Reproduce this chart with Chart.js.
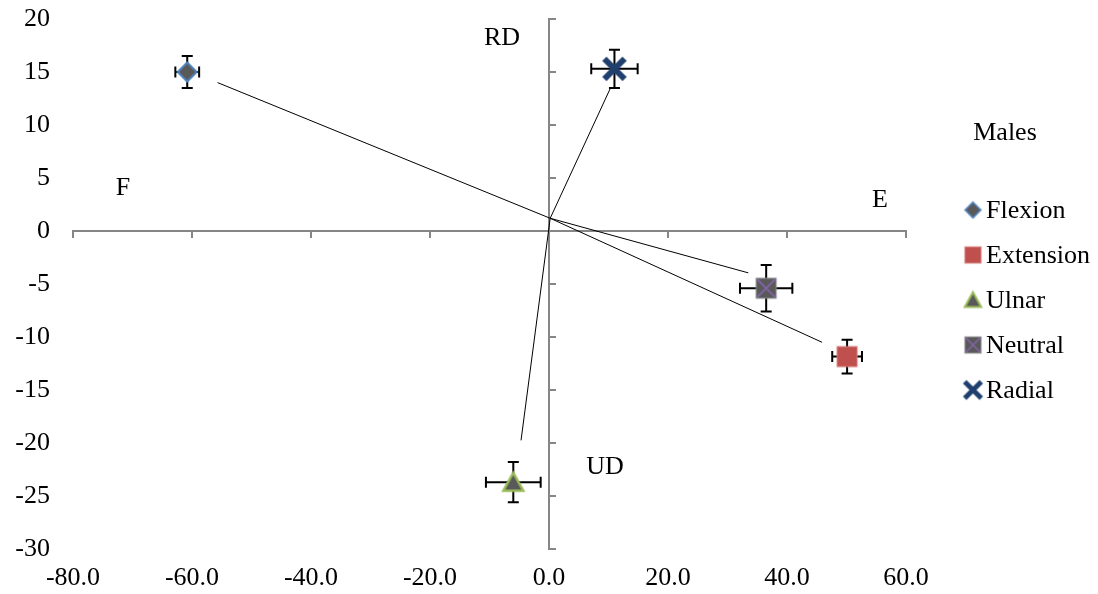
<!DOCTYPE html>
<html><head><meta charset="utf-8">
<script src="https://cdn.jsdelivr.net/npm/chart.js@4"></script>
<style>html,body{margin:0;padding:0;background:#fff;} #wrap{width:1098px;height:594px;position:relative;}</style>
</head><body><div id="wrap"><canvas id="c" width="1098" height="594"></canvas></div>
<script>
// ---- data ----
const categories = ['Flexion', 'Extension', 'Ulnar', 'Neutral', 'Radial'];
const meanX = [-60.8, 50.1, -6.0, 36.5, 11.0];
const meanY = [15.0, -11.85, -23.7, -5.4, 15.3];
const errX = [2.0, 2.5, 4.6, 4.4, 3.9];
const errY = [1.5, 1.6, 1.9, 2.2, 1.8];
const lineStart = [0.2, 1.2];
const lineEndX = [-55.7, 45.9, -4.7, 33.5, 10.3];
const lineEndY = [14.0, -10.5, -19.75, -3.95, 13.45];
const xTicks = [-80, -60, -40, -20, 0, 20, 40, 60];
const yTicks = [-30, -25, -20, -15, -10, -5, 0, 5, 10, 15, 20];
const annotations = [
  {text: 'RD', x: 502, y: 38},
  {text: 'F', x: 123, y: 188},
  {text: 'E', x: 880, y: 200},
  {text: 'UD', x: 605, y: 467},
  {text: 'Males', x: 1005, y: 133}
];

const FONT = '26px "Liberation Serif", "Times New Roman", serif';

function makeMarker(type, s) {
  const c = document.createElement('canvas');
  const n = Math.ceil(28 * s);
  c.width = n; c.height = n;
  const g = c.getContext('2d');
  g.translate(n / 2, n / 2);
  g.scale(s, s);
  if (type === 'Flexion') {
    g.beginPath(); g.moveTo(0, -9.5); g.lineTo(9.5, 0); g.lineTo(0, 9.5); g.lineTo(-9.5, 0); g.closePath();
    g.fillStyle = '#595959'; g.fill();
    g.lineWidth = 2; g.strokeStyle = '#4F81BD'; g.stroke();
  } else if (type === 'Extension') {
    g.fillStyle = '#C0504D'; g.fillRect(-10, -10, 20, 20);
    g.lineWidth = 1; g.strokeStyle = '#D27C7A'; g.strokeRect(-10, -10, 20, 20);
  } else if (type === 'Ulnar') {
    g.beginPath(); g.moveTo(0, -9.5); g.lineTo(10, 8.5); g.lineTo(-10, 8.5); g.closePath();
    g.fillStyle = '#595959'; g.fill();
    g.lineWidth = 2.5; g.lineJoin = 'miter'; g.strokeStyle = '#9BBB59'; g.stroke();
  } else if (type === 'Neutral') {
    g.fillStyle = '#595959'; g.fillRect(-10, -10, 20, 20);
    g.lineWidth = 1; g.strokeStyle = '#8C8C8C'; g.strokeRect(-10, -10, 20, 20);
    g.beginPath(); g.moveTo(-9, -9); g.lineTo(9, 9); g.moveTo(9, -9); g.lineTo(-9, 9);
    g.lineWidth = 2; g.strokeStyle = '#8064A2'; g.stroke();
  } else if (type === 'Radial') {
    g.beginPath(); g.moveTo(-8, -8); g.lineTo(8, 8); g.moveTo(8, -8); g.lineTo(-8, 8);
    g.lineWidth = 6; g.lineCap = 'square'; g.strokeStyle = '#1F3F6E'; g.stroke();
  }
  return c;
}

const markers = categories.map(k => makeMarker(k, 1));
const legendMarkers = categories.map(k => makeMarker(k, 0.82));

const datasets = [];
categories.forEach((k, i) => {
  datasets.push({
    label: k,
    data: [{x: meanX[i], y: meanY[i]}],
    pointStyle: markers[i],
    pointRadius: 10,
    showLine: false,
    order: 0
  });
});
categories.forEach((k, i) => {
  datasets.push({
    label: k + ' line',
    data: [{x: lineStart[0], y: lineStart[1]}, {x: lineEndX[i], y: lineEndY[i]}],
    showLine: true,
    borderColor: '#000',
    borderWidth: 1,
    pointRadius: 0,
    fill: false,
    order: 1
  });
});

const decor = {
  id: 'decor',
  beforeDatasetsDraw(chart) {
    const ctx = chart.ctx, xs = chart.scales.x, ys = chart.scales.y;
    ctx.save();
    // axes crossing at origin
    ctx.strokeStyle = '#868686'; ctx.lineWidth = 2; ctx.lineCap = 'butt';
    const y0 = ys.getPixelForValue(0), x0 = xs.getPixelForValue(0);
    ctx.beginPath();
    ctx.moveTo(xs.getPixelForValue(xTicks[0]) - 1, y0); ctx.lineTo(xs.getPixelForValue(xTicks[xTicks.length - 1]) + 1, y0);
    xTicks.forEach(v => { const p = xs.getPixelForValue(v); ctx.moveTo(p, y0); ctx.lineTo(p, y0 + 7); });
    ctx.moveTo(x0, ys.getPixelForValue(yTicks[0]) + 1); ctx.lineTo(x0, ys.getPixelForValue(yTicks[yTicks.length - 1]) - 1);
    yTicks.forEach(v => { const p = ys.getPixelForValue(v); ctx.moveTo(x0, p); ctx.lineTo(x0 + 7, p); });
    ctx.stroke();
    // error bars
    ctx.strokeStyle = '#000'; ctx.lineWidth = 2;
    categories.forEach((k, i) => {
      const cx = xs.getPixelForValue(meanX[i]), cy = ys.getPixelForValue(meanY[i]);
      const xl = xs.getPixelForValue(meanX[i] - errX[i]), xr = xs.getPixelForValue(meanX[i] + errX[i]);
      const yt = ys.getPixelForValue(meanY[i] + errY[i]), yb = ys.getPixelForValue(meanY[i] - errY[i]);
      const cap = 5.5;
      ctx.beginPath();
      ctx.moveTo(xl, cy); ctx.lineTo(xr, cy);
      ctx.moveTo(xl, cy - cap); ctx.lineTo(xl, cy + cap);
      ctx.moveTo(xr, cy - cap); ctx.lineTo(xr, cy + cap);
      ctx.moveTo(cx, yt); ctx.lineTo(cx, yb);
      ctx.moveTo(cx - cap, yt); ctx.lineTo(cx + cap, yt);
      ctx.moveTo(cx - cap, yb); ctx.lineTo(cx + cap, yb);
      ctx.stroke();
    });
    ctx.restore();
  },
  afterDraw(chart) {
    const ctx = chart.ctx;
    ctx.save();
    ctx.font = FONT; ctx.fillStyle = '#000';
    ctx.textAlign = 'center'; ctx.textBaseline = 'middle';
    annotations.forEach(a => ctx.fillText(a.text, a.x, a.y));
    // legend
    ctx.textAlign = 'left';
    categories.forEach((k, i) => {
      const yy = 210 + i * 45;
      const m = legendMarkers[i];
      ctx.drawImage(m, 973 - m.width / 2, yy - m.height / 2);
      ctx.fillText(k, 986, yy + 1);
    });
    ctx.restore();
  }
};

new Chart(document.getElementById('c'), {
  type: 'scatter',
  data: { datasets },
  options: {
    responsive: false,
    animation: false,
    devicePixelRatio: 1,
    layout: { padding: { left: 0, right: 192, top: 19, bottom: 0 } },
    plugins: { legend: { display: false }, tooltip: { enabled: false } },
    scales: {
      x: {
        type: 'linear', min: -80, max: 60,
        border: { display: false },
        grid: { display: false, drawTicks: false },
        afterBuildTicks: s => { s.ticks = xTicks.map(v => ({value: v})); },
        afterFit: s => { s.height = 45; s.paddingLeft = 0; s.paddingRight = 0; },
        ticks: {
          padding: 14, color: '#000', maxRotation: 0, autoSkip: false,
          font: { family: '"Liberation Serif", "Times New Roman", serif', size: 26 },
          callback: v => Number(v).toFixed(1)
        }
      },
      y: {
        type: 'linear', min: -30, max: 20,
        border: { display: false },
        grid: { display: false, drawTicks: false },
        afterBuildTicks: s => { s.ticks = yTicks.map(v => ({value: v})); },
        afterFit: s => { s.width = 73; s.paddingTop = 0; s.paddingBottom = 0; },
        ticks: {
          padding: 23, color: '#000', autoSkip: false,
          font: { family: '"Liberation Serif", "Times New Roman", serif', size: 26 },
          callback: v => String(v)
        }
      }
    }
  },
  plugins: [decor]
});
</script></body></html>
